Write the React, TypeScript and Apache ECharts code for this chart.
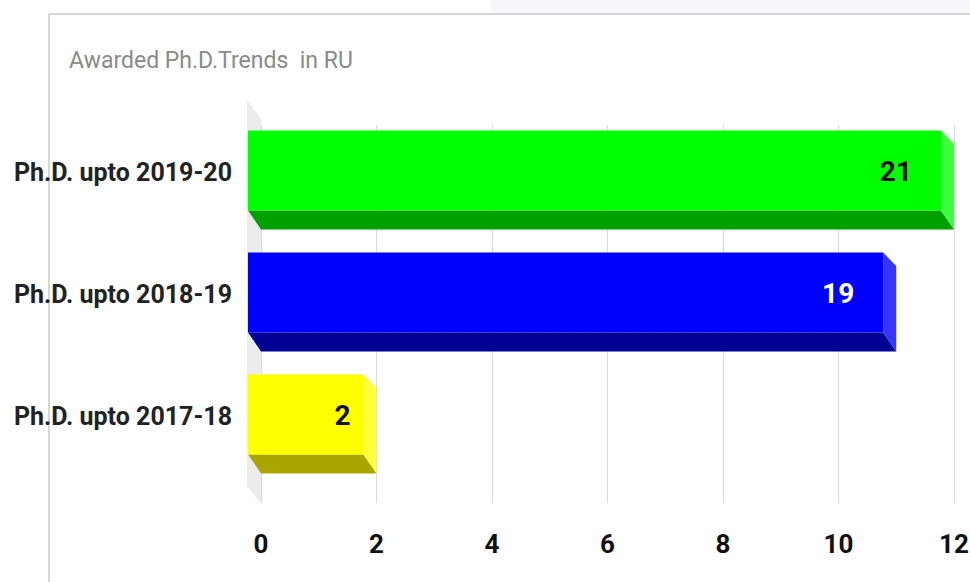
import React, { useEffect, useRef } from "react";
import * as echarts from "echarts";

// Categories, bottom to top on the category axis
const categories = ["Ph.D. upto 2017-18", "Ph.D. upto 2018-19", "Ph.D. upto 2019-20"];
// Numbers printed on the bars
const awardedLabels = [2, 19, 21];
// Bar lengths as drawn against the 0-12 axis in the source picture
const barLengths = [2, 11, 12];
const axisMin = 0;
const axisMax = 12;
const axisInterval = 2;

const frontColors = ["#ffff00", "#0000ff", "#00ff00"];
const bottomColors = ["#aaa600", "#000095", "#00a000"];
const sideColors = ["#ffff3c", "#3535ff", "#3cff3c"];
const labelColors = ["#111111", "#ffffff", "#111111"];

const FONT = "Roboto, 'Liberation Sans', Arial, sans-serif";

export default function App() {
  const ref = useRef<HTMLDivElement>(null);

  useEffect(() => {
    if (!ref.current) return;
    const chart = echarts.init(ref.current, null, { renderer: "svg" });
    const data = barLengths.map((v, i) => [v, i, awardedLabels[i]]);

    chart.setOption({
      animation: false,
      backgroundColor: "#ffffff",
      title: {
        text: "Awarded Ph.D.Trends  in RU",
        left: 64,
        top: 44,
        textStyle: {
          fontFamily: FONT,
          fontSize: 23,
          fontWeight: "normal",
          color: "#8a8a8a",
        },
      },
      graphic: [
        {
          type: "rect",
          shape: { x: 490, y: 0, width: 480, height: 13 },
          style: { fill: "#f5f7fa" },
          silent: true,
        },
        {
          type: "line",
          shape: { x1: 49, y1: 14, x2: 970, y2: 14 },
          style: { stroke: "#c8c8c8", lineWidth: 1.5 },
          silent: true,
        },
        {
          type: "line",
          shape: { x1: 49, y1: 14, x2: 49, y2: 582 },
          style: { stroke: "#c8c8c8", lineWidth: 1.5 },
          silent: true,
        },
        {
          type: "polygon",
          shape: { points: [[247, 100], [261, 119], [261, 504], [247, 486]] },
          style: { fill: "#ececec" },
          silent: true,
        },
      ],
      grid: [
        { left: 261, right: 16, top: 119, bottom: 97, containLabel: false, outerBoundsMode: "none" },
        { left: 261, right: 16, top: 125, bottom: 79, containLabel: false, outerBoundsMode: "none" },
      ],
      xAxis: [
        {
          gridIndex: 0,
          type: "value",
          min: axisMin,
          max: axisMax,
          interval: axisInterval,
          show: false,
        },
        {
          gridIndex: 1,
          type: "value",
          min: axisMin,
          max: axisMax,
          interval: axisInterval,
          axisLine: { show: false },
          axisTick: { show: false },
          splitLine: { show: true, lineStyle: { color: "#dadada", width: 1 } },
          axisLabel: {
            margin: 28,
            fontFamily: FONT,
            fontSize: 26,
            fontWeight: "bold",
            color: "#111111",
          },
        },
      ],
      yAxis: [
        {
          gridIndex: 0,
          type: "category",
          data: categories,
          axisLine: { show: false },
          axisTick: { show: false },
          splitLine: { show: false },
          axisLabel: {
            margin: 29,
            fontFamily: FONT,
            fontSize: 25,
            fontWeight: "bold",
            color: "#222222",
            verticalAlign: "bottom",
            lineHeight: 16,
          },
        },
        {
          gridIndex: 1,
          type: "category",
          data: categories,
          show: false,
        },
      ],
      series: [
        {
          type: "custom",
          xAxisIndex: 0,
          yAxisIndex: 0,
          encode: { x: 0, y: 1 },
          data,
          renderItem: (params: any, api: any) => {
            const i = params.dataIndex;
            const v = api.value(0);
            const c = api.value(1);
            const end = api.coord([v, c]);
            const start = api.coord([axisMin, c]);
            const band = api.size([0, 1])[1];
            const h = band * 0.81;
            const dx = 13;
            const dy = 19;
            const yTop = end[1] - h / 2;
            const yB = end[1] + h / 2;
            const x0 = start[0];
            const xv = end[0];
            const labelText = String(awardedLabels[i]);
            const inset = labelText.length > 1 ? 29 : 13;
            return {
              type: "group",
              children: [
                {
                  type: "polygon",
                  shape: {
                    points: [
                      [x0 - dx, yB - dy],
                      [xv - dx, yB - dy],
                      [xv, yB],
                      [x0, yB],
                    ],
                  },
                  style: { fill: bottomColors[i] },
                },
                {
                  type: "polygon",
                  shape: {
                    points: [
                      [xv - dx, yTop],
                      [xv, yTop + dy * 0.7],
                      [xv, yB],
                      [xv - dx, yB - dy],
                    ],
                  },
                  style: { fill: sideColors[i] },
                },
                {
                  type: "rect",
                  shape: { x: x0 - dx, y: yTop, width: xv - x0, height: h - dy },
                  style: { fill: frontColors[i] },
                },
                {
                  type: "text",
                  x: xv - dx - inset,
                  y: yTop + (h - dy) / 2 + 1,
                  style: {
                    text: labelText,
                    align: "right",
                    verticalAlign: "middle",
                    fontFamily: FONT,
                    fontSize: 28,
                    fontWeight: "bold",
                    fill: labelColors[i],
                  },
                },
              ],
            };
          },
        },
      ],
    });

    return () => chart.dispose();
  }, []);

  return (
    <div
      ref={ref}
      style={{ position: "fixed", left: 0, top: 0, width: 970, height: 582 }}
    />
  );
}
